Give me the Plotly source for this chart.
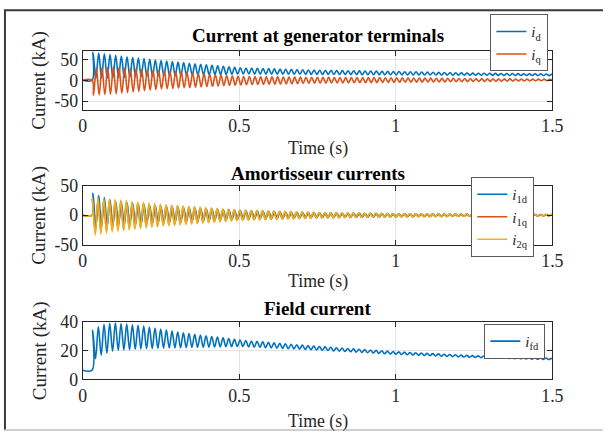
import numpy as np
import plotly.graph_objects as go

# ---------------- data ----------------
T_END = 1.5
T_FAULT = 0.03
PERIOD = 0.0181          # oscillation period (s) counted from peaks

# Panel 1: currents at generator terminals (kA) - envelopes of the oscillation
env1_t = [0.03, 0.1, 0.25, 0.5, 0.75, 1.0, 1.25, 1.5]
id_up = [67, 60, 47, 30, 24, 21, 17, 15]
id_lo = [3, 6, 10, 15, 14, 13, 12, 11]
iq_up = [30, 31, 23, 9, 7, 6, 4, 2.5]
iq_lo = [-36, -33, -21, -11, -7, -5, -3, -1]
id_pre, iq_pre = 0, 0

# Panel 2: amortisseur currents (kA)
env2_t = [0.03, 0.1, 0.25, 0.5, 0.75, 1.0, 1.25, 1.5]
i1d_up = [38, 24, 15, 8, 4, 2.5, 1.5, 1]
i1d_lo = [-20, -18, -13, -7, -4, -2.5, -1.5, -1]
i1q_up = [27, 24, 17, 8, 4.5, 2.7, 1.8, 1.3]
i1q_lo = [-31, -25, -17, -8, -4.5, -2.7, -1.8, -1.3]
i2q_up = [30, 27, 19, 9, 5, 3, 2, 1.5]
i2q_lo = [-35, -28, -19, -9, -5, -3, -2, -1.5]

# Panel 3: field current (kA)
env3_t = [0.03, 0.06, 0.1, 0.2, 0.3, 0.5, 0.75, 1.0, 1.25, 1.5]
ifd_up = [34, 38, 39.5, 37, 33, 27.5, 23, 19.3, 16.5, 14.8]
ifd_lo = [13, 17, 20, 21.5, 22, 23, 20.5, 17.5, 15.3, 13.8]
ifd_pre = 6.5

titles = ["Current at generator terminals", "Amortisseur currents", "Field current"]
xtick_vals = [0, 0.5, 1, 1.5]
xtick_text = ["0", "0.5", "1", "1.5"]
y1_ticks, y1_text = [-50, 0, 50], ["-50", "0", "50"]
y2_ticks, y2_text = [-50, 0, 50], ["-50", "0", "50"]
y3_ticks, y3_text = [0, 20, 40], ["0", "20", "40"]

BLUE, RED, YELLOW = "#0072BD", "#D95319", "#EDB120"
FONT = "Liberation Serif"


def waveform(env_t, up, lo, pre, delay, first_upper=True):
    """Zig-zag through successive extremes taken from the read envelopes."""
    t = [0.0, T_FAULT]
    y = [pre, pre]
    k = 0
    tk = T_FAULT + delay
    while tk < T_END:
        upper = (k % 2 == 0) == first_upper
        env = up if upper else lo
        t.append(tk)
        y.append(float(np.interp(tk, env_t, env)))
        k += 1
        tk = T_FAULT + delay + k * PERIOD / 2
    t.append(T_END)
    y.append(0.5 * (np.interp(T_END, env_t, up) + np.interp(T_END, env_t, lo)))
    return t, y


# Calibration of the photographed page: body margin and capture scaling.
OFF = 8
SX, SY = 0.970, 0.962
W, H = 614, 442


def px(x):
    return (x / SX - OFF) / W


def py(y):
    return 1 - (y / SY - OFF) / H


LW = 1.6

fig = go.Figure()

xdom = [px(86), px(553)]
panels = [(49, 108), (185, 244), (322, 380)]
ydoms = [[py(b), py(t)] for t, b in panels]

t, y = waveform(env1_t, id_up, id_lo, id_pre, 0.003, True)
fig.add_trace(go.Scatter(x=t, y=y, mode="lines", name="<i>i</i><sub>d</sub>",
                         line=dict(color=BLUE, width=LW, shape="spline", smoothing=1),
                         xaxis="x", yaxis="y", legend="legend"))
t, y = waveform(env1_t, iq_up, iq_lo, iq_pre, 0.0045, False)
fig.add_trace(go.Scatter(x=t, y=y, mode="lines", name="<i>i</i><sub>q</sub>",
                         line=dict(color=RED, width=LW, shape="spline", smoothing=1),
                         xaxis="x", yaxis="y", legend="legend"))

t, y = waveform(env2_t, i1d_up, i1d_lo, 0, 0.003, True)
fig.add_trace(go.Scatter(x=t, y=y, mode="lines", name="<i>i</i><sub>1d</sub>",
                         line=dict(color=BLUE, width=LW, shape="spline", smoothing=1),
                         xaxis="x2", yaxis="y2", legend="legend2"))
t, y = waveform(env2_t, i1q_up, i1q_lo, 0, 0.001, True)
fig.add_trace(go.Scatter(x=t, y=y, mode="lines", name="<i>i</i><sub>1q</sub>",
                         line=dict(color=RED, width=LW, shape="spline", smoothing=1),
                         xaxis="x2", yaxis="y2", legend="legend2"))
t, y = waveform(env2_t, i2q_up, i2q_lo, 0, 0.001, True)
fig.add_trace(go.Scatter(x=t, y=y, mode="lines", name="<i>i</i><sub>2q</sub>",
                         line=dict(color=YELLOW, width=LW, shape="spline", smoothing=1),
                         xaxis="x2", yaxis="y2", legend="legend2"))

t, y = waveform(env3_t, ifd_up, ifd_lo, ifd_pre, 0.002, True)
fig.add_trace(go.Scatter(x=t, y=y, mode="lines", name="<i>i</i><sub>fd</sub>",
                         line=dict(color=BLUE, width=LW, shape="spline", smoothing=1),
                         xaxis="x3", yaxis="y3", legend="legend3"))

axis_common = dict(showline=True, linecolor="#262626", linewidth=1, mirror="ticks",
                   ticks="inside", ticklen=5, tickcolor="#262626", showgrid=True,
                   gridcolor="#e3e3e3", gridwidth=1, zeroline=False,
                   tickfont=dict(family=FONT, size=17.8, color="#262626"))

yranges = [[-70, 70], [-50, 50], [0, 40]]
yticks = [(y1_ticks, y1_text), (y2_ticks, y2_text), (y3_ticks, y3_text)]
layout = dict(width=W, height=H, margin=dict(l=0, r=0, t=0, b=0),
              paper_bgcolor="white", plot_bgcolor="white",
              font=dict(family=FONT, color="#262626"))
for i in range(3):
    sx = "" if i == 0 else str(i + 1)
    layout["xaxis" + sx] = dict(axis_common, domain=xdom, range=[0, 1.5],
                                tickvals=xtick_vals, ticktext=xtick_text,
                                anchor="y" + sx)
    layout["yaxis" + sx] = dict(axis_common, domain=ydoms[i], range=yranges[i],
                                tickvals=yticks[i][0], ticktext=yticks[i][1],
                                anchor="x" + sx)

leg_common = dict(bgcolor="white", bordercolor="#5a5a5a", borderwidth=1,
                  font=dict(family=FONT, size=15, color="#262626"),
                  xanchor="right", yanchor="top", itemwidth=30)
layout["legend"] = dict(leg_common, x=px(549), y=py(12))
layout["legend2"] = dict(leg_common, x=px(535), y=py(176))
layout["legend3"] = dict(leg_common, x=px(546), y=py(324))
fig.update_layout(**layout)

ann = []
title_y = [33, 172, 308]
xlab_y = [147, 281, 422]
xc = px((86 + 553) / 2)
for i in range(3):
    ann.append(dict(text="<b>" + titles[i] + "</b>", x=xc, y=py(title_y[i]),
                    xref="paper", yref="paper", showarrow=False,
                    font=dict(family=FONT, size=19, color="black"),
                    xanchor="center", yanchor="middle"))
    ann.append(dict(text="Time (s)", x=xc, y=py(xlab_y[i]),
                    xref="paper", yref="paper", showarrow=False,
                    font=dict(family=FONT, size=17.8, color="#262626"),
                    xanchor="center", yanchor="middle"))
    yc = py((panels[i][0] + panels[i][1]) / 2)
    ann.append(dict(text="Current (kA)", x=px(43), y=yc, textangle=-90,
                    xref="paper", yref="paper", showarrow=False,
                    font=dict(family=FONT, size=19, color="#262626"),
                    xanchor="center", yanchor="middle"))
fig.update_layout(annotations=ann)

# outer figure frame (dark top/left edges, light bottom edge)
fig.add_shape(type="line", xref="paper", yref="paper", x0=0, x1=1.0,
              y0=py(8), y1=py(8), line=dict(color="#3a3a3a", width=2))
fig.add_shape(type="line", xref="paper", yref="paper", x0=1 / W, x1=1 / W,
              y0=py(8), y1=py(431), line=dict(color="#3a3a3a", width=2))
fig.add_shape(type="line", xref="paper", yref="paper", x0=0, x1=1.0,
              y0=py(431), y1=py(431), line=dict(color="#c0c0c0", width=1.5))

fig.write_html("out.html")
